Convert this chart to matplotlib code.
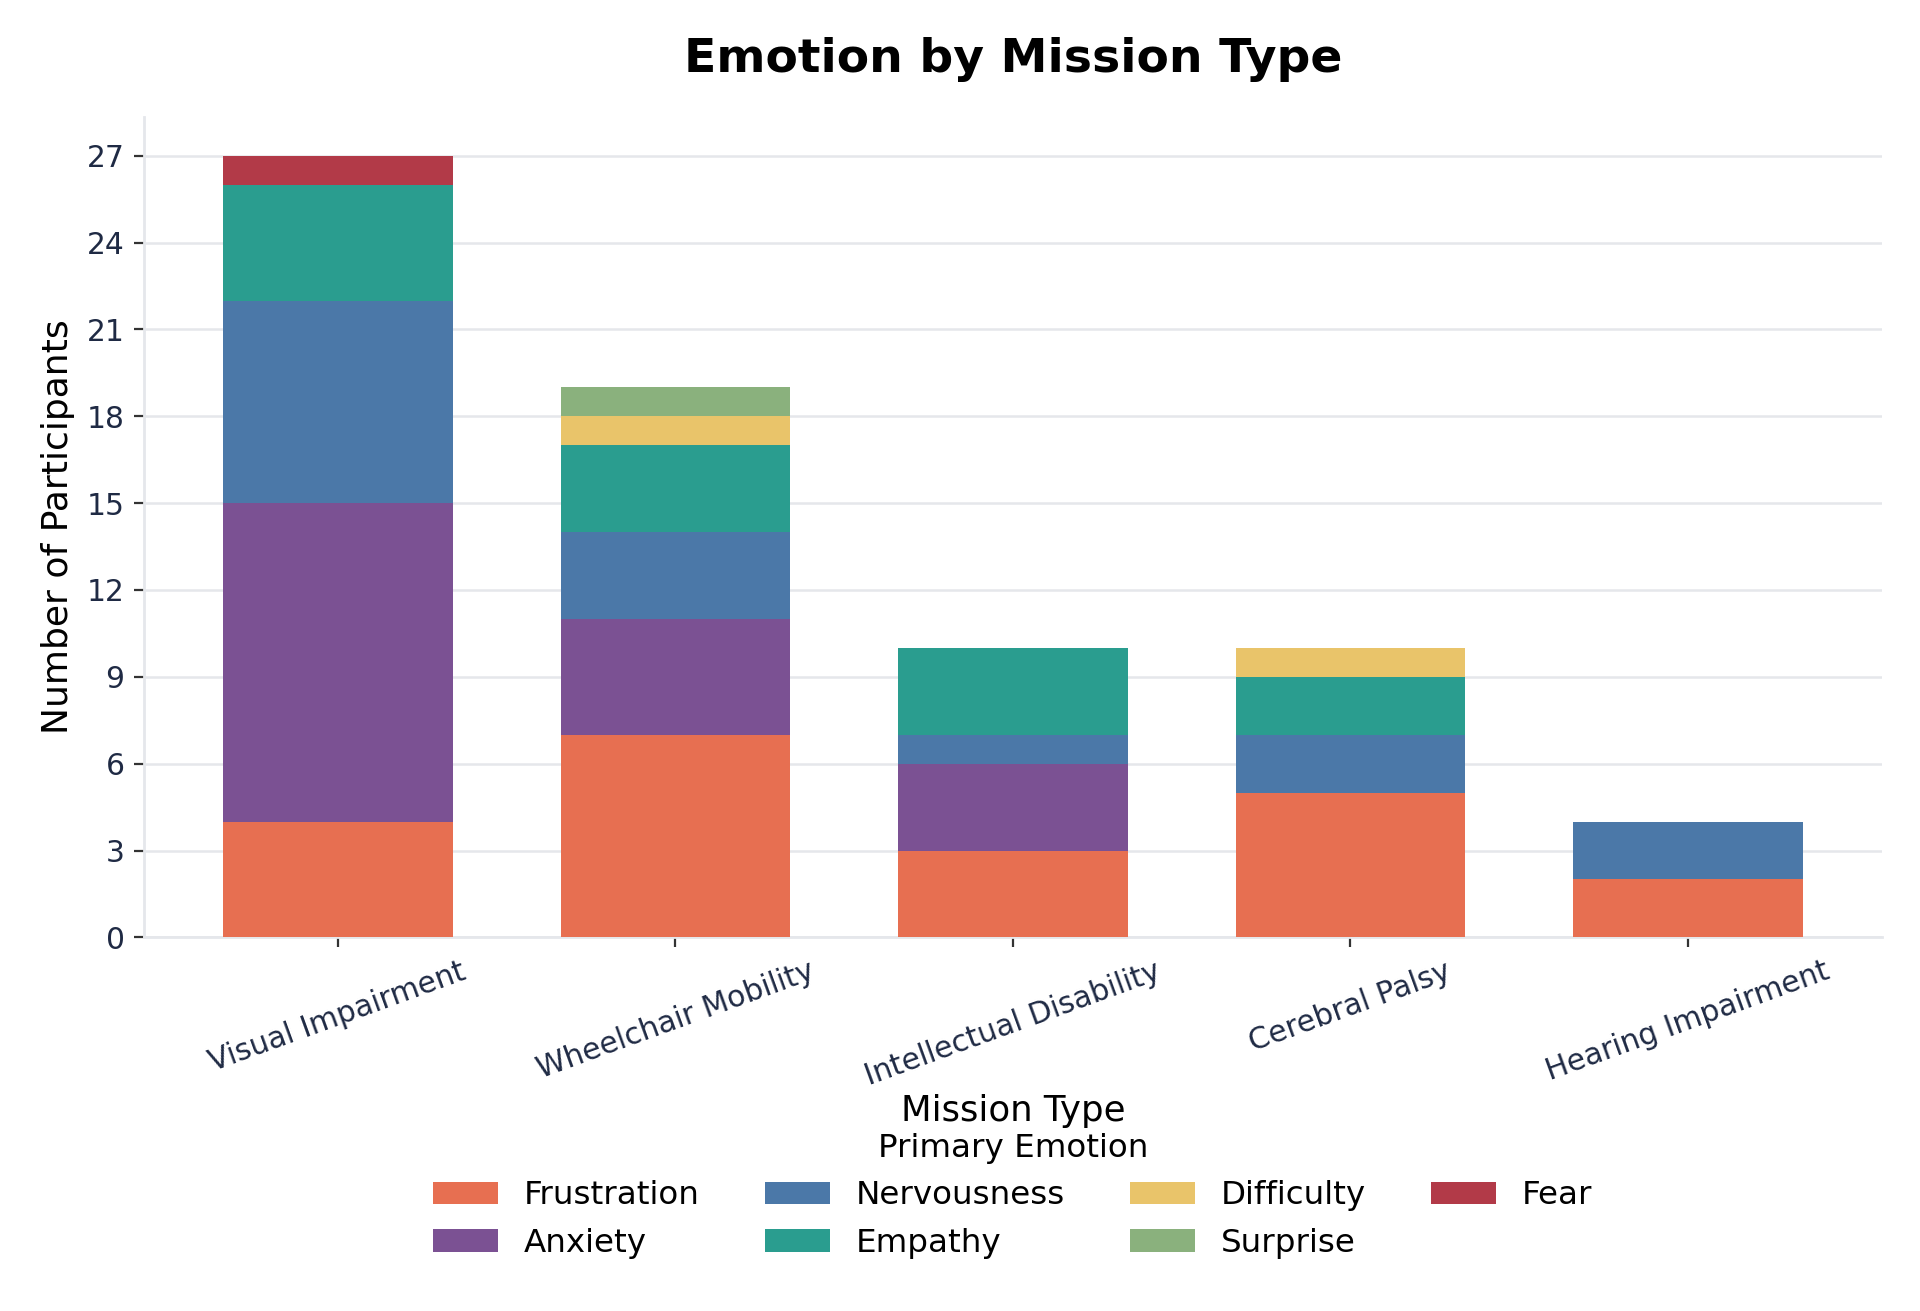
import matplotlib
matplotlib.use("Agg")
import matplotlib.pyplot as plt
import numpy as np

categories = ["Visual Impairment", "Wheelchair Mobility", "Intellectual Disability",
              "Cerebral Palsy", "Hearing Impairment"]
emotions = ["Frustration", "Anxiety", "Nervousness", "Empathy", "Difficulty", "Surprise", "Fear"]
frustration = [4, 7, 3, 5, 2]
anxiety = [11, 4, 3, 0, 0]
nervousness = [7, 3, 1, 2, 2]
empathy = [4, 3, 3, 2, 0]
difficulty = [0, 1, 0, 1, 0]
surprise = [0, 1, 0, 0, 0]
fear = [1, 0, 0, 0, 0]
series = [frustration, anxiety, nervousness, empathy, difficulty, surprise, fear]
colors = ["#E76F51", "#7B5193", "#4B78A8", "#2A9D8F", "#E9C46A", "#8AB17D", "#B23A48"]
yticks = [0, 3, 6, 9, 12, 15, 18, 21, 24, 27]

plt.rcParams['font.family'] = ['DejaVu Sans']
fig = plt.figure(figsize=(9.6, 6.555), dpi=200)
ax = fig.add_axes([0.075, 0.285, 0.905, 0.626])

x = np.arange(len(categories))
bottom = np.zeros(len(categories))
for name, vals, c in zip(emotions, series, colors):
    v = np.array(vals, dtype=float)
    ax.bar(x, v, width=0.68, bottom=bottom, color=c, label=name,
           linewidth=0, zorder=3)
    bottom += v

ax.set_yticks(yticks)
ax.set_xticks(x)
ax.set_xticklabels(categories, rotation=20, ha="center")
ax.tick_params(axis="both", labelsize=10.7, labelcolor="#1f2a44", color="#333333")
ax.grid(axis="y", color="#e5e7eb", linewidth=0.9, zorder=0)
ax.set_axisbelow(True)
for s in ["top", "right"]:
    ax.spines[s].set_visible(False)
for s in ["left", "bottom"]:
    ax.spines[s].set_color("#e5e7eb")
    ax.spines[s].set_linewidth(1.0)

ax.set_title("Emotion by Mission Type", fontsize=17, fontweight="bold", pad=16)
ax.set_ylabel("Number of Participants", fontsize=13)
ax.set_xlabel("Mission Type", fontsize=12.8, labelpad=1)

leg = ax.legend(loc="upper center", bbox_to_anchor=(0.5, -0.203), ncol=4,
                frameon=False, fontsize=11.7, title="Primary Emotion",
                title_fontsize=11.7, handlelength=2.0,
                columnspacing=2.0, labelspacing=0.5)

fig.savefig("out.png", dpi=200)
